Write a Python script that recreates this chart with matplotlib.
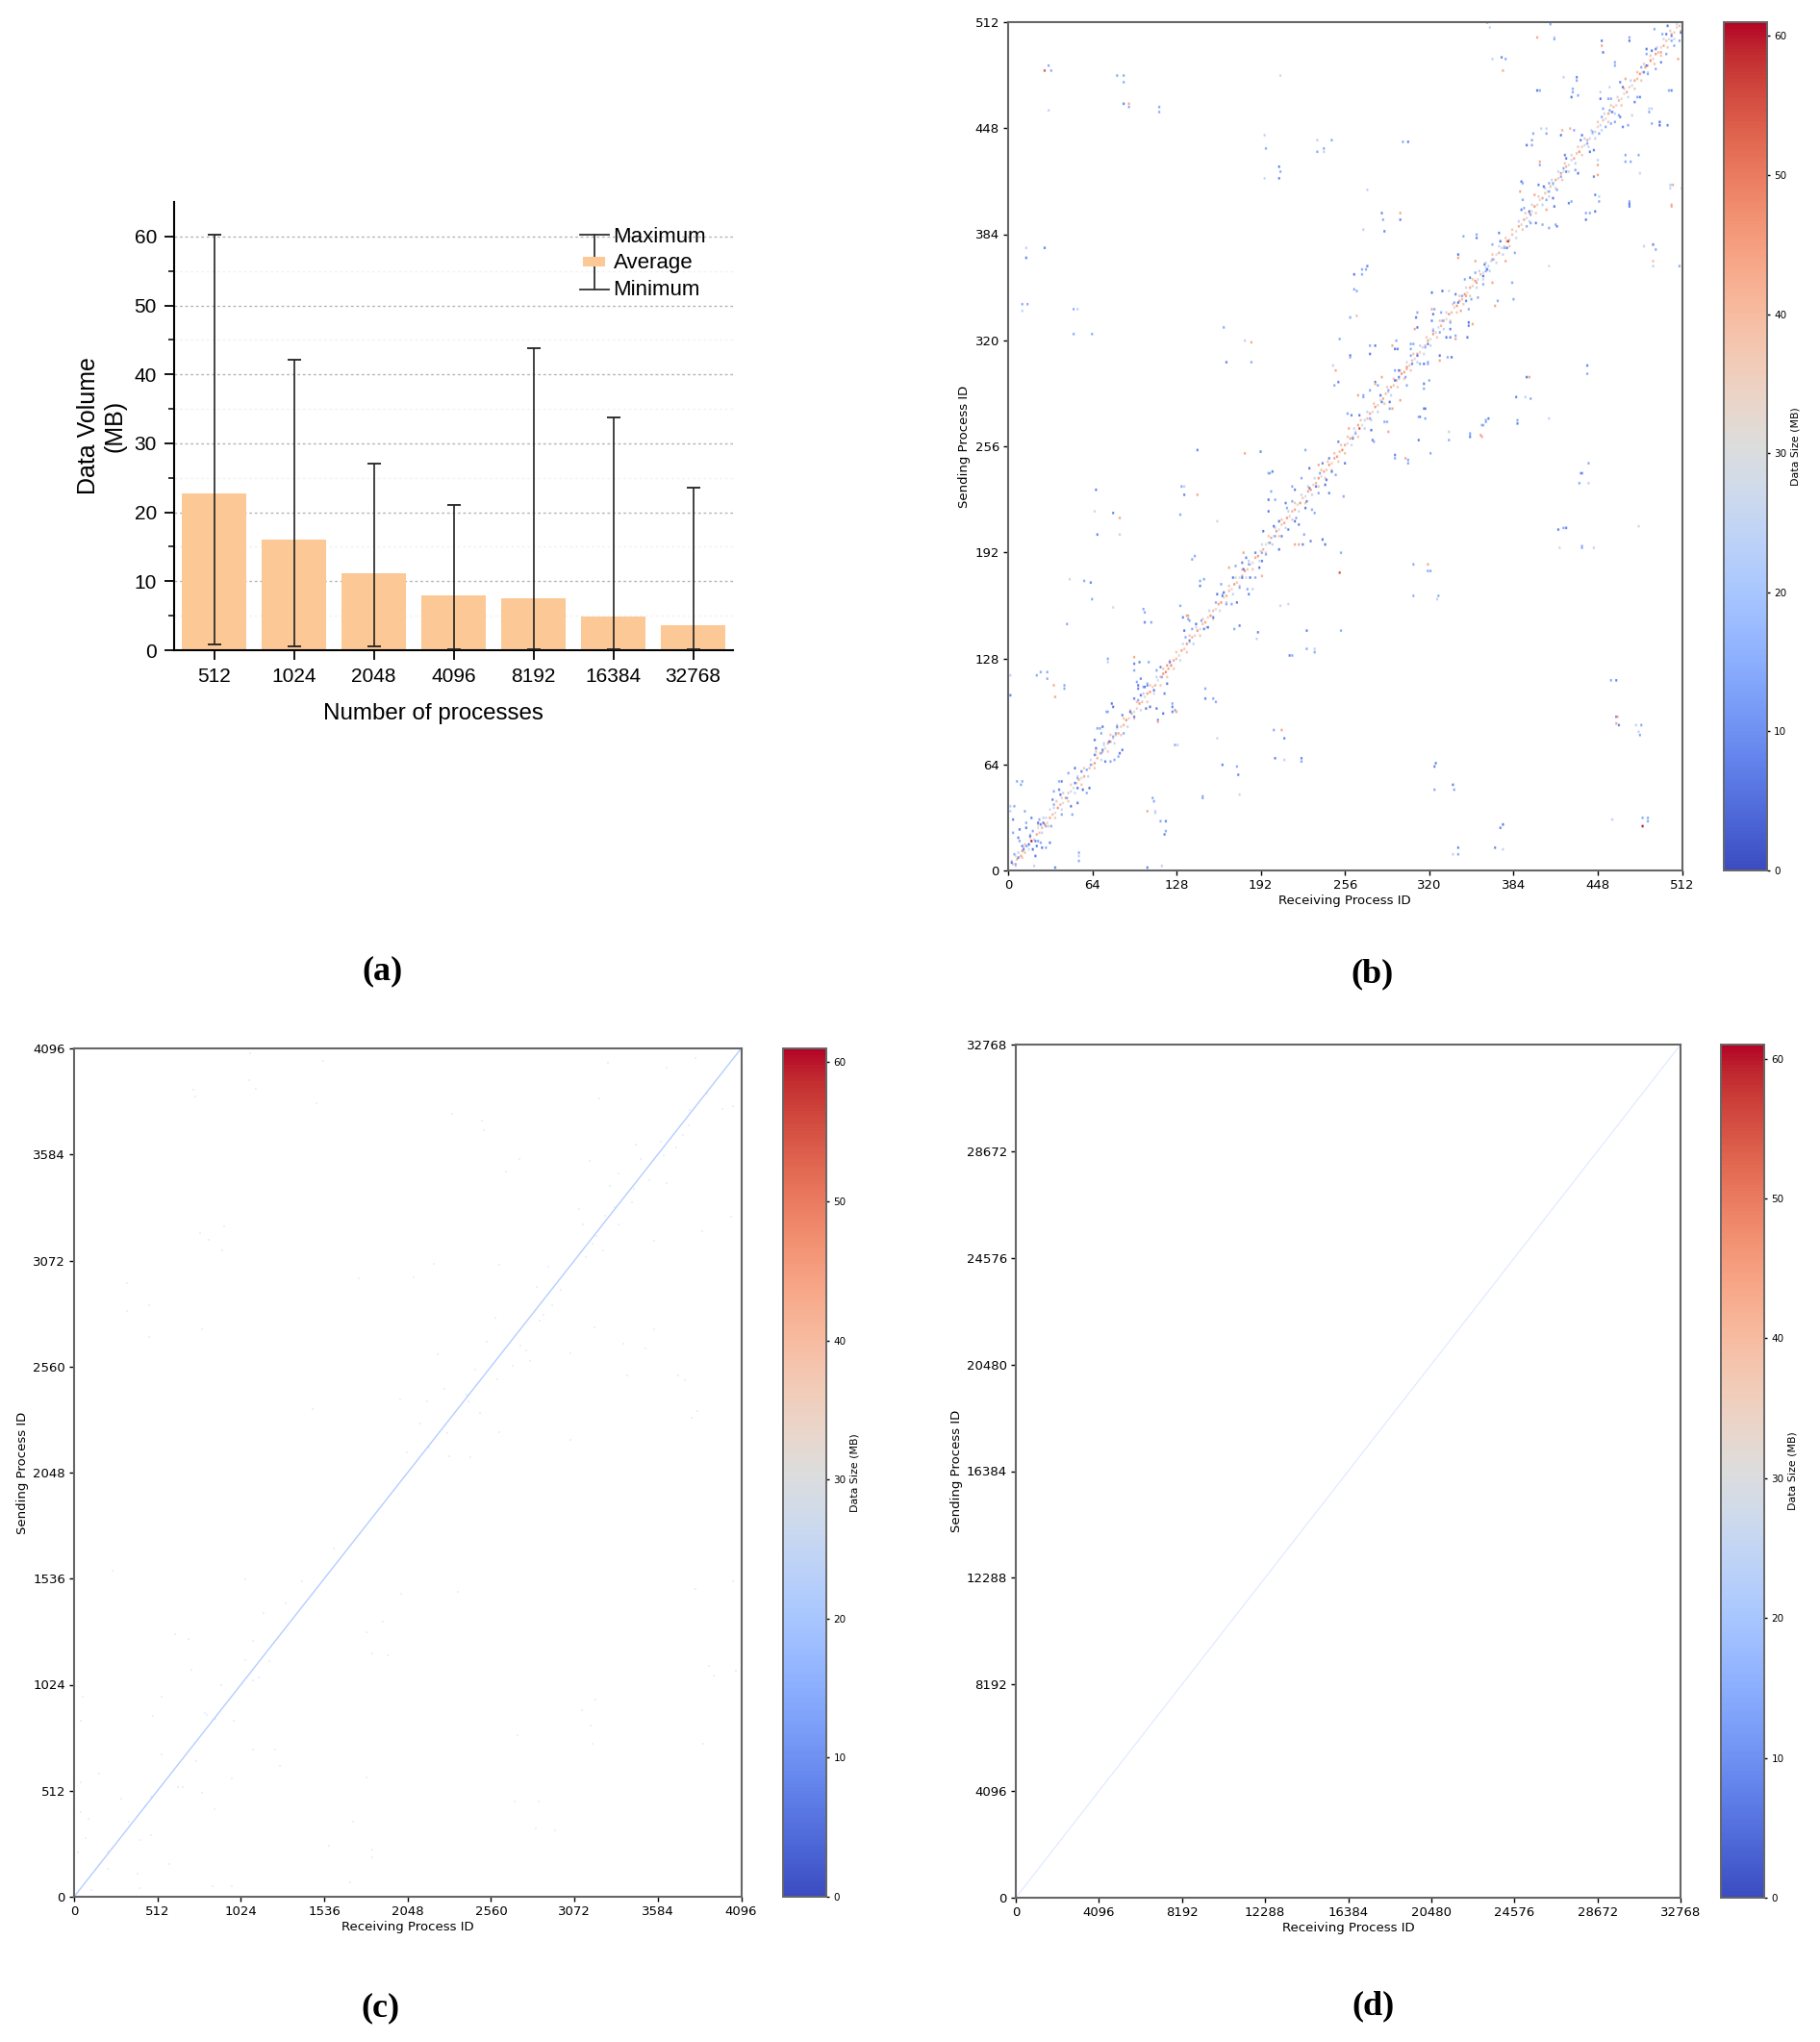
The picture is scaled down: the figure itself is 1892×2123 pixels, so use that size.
import numpy as np
import matplotlib
matplotlib.use("Agg")
import matplotlib.pyplot as plt
from matplotlib.cm import ScalarMappable
from matplotlib.colors import Normalize
from matplotlib.patches import Rectangle

# ---------- panel (a) ----------
procs = ["512", "1024", "2048", "4096", "8192", "16384", "32768"]
vol_avg = [22.8, 16.1, 11.2, 8.0, 7.5, 4.9, 3.6]
vol_max = [60.3, 42.1, 27.1, 21.0, 43.8, 33.7, 23.6]
vol_min = [0.8, 0.5, 0.5, 0.2, 0.2, 0.2, 0.2]

# ---------- panel (b): (receiver, sender, MB) ----------
b_band_1 = [(3,3,38),(6,6,42),(5,8,30),(9,8,44),(10,11,46),(12,10,40),(11,13,32),(14,14,28),(17,17,60),(16,19,36),(19,18,26),(21,21,44),(23,22,38),(22,25,30),(25,25,42),(27,27,46),(29,28,34),(28,31,28),(31,31,44),(33,33,40),(35,34,30),(34,37,26),(37,37,46),(39,39,42),(41,40,30),(40,43,34),(43,43,46),(45,46,38),(47,47,28),(49,49,30),(51,52,40),(53,54,42),(55,55,32),(57,56,44),(59,60,30),(61,61,40),(63,63,34),(65,64,46),(67,67,42),(66,69,30),(69,70,38),(71,71,44),(73,73,30),(72,75,26),(75,76,42),(77,77,46),(79,79,34),(81,81,40),(83,82,44),(82,85,30),(85,86,36),(87,87,42),(89,90,46),(91,91,34),(93,94,44),(95,95,30),(97,97,36),(99,100,46),(101,101,40),(103,104,30),(105,106,44),(107,107,46),(109,110,36),(111,111,42),(113,114,30),(115,116,40),(117,118,46),(119,119,48),(121,121,44),(120,123,46),(123,123,48),(125,126,44),(127,127,40)]
b_band_2 = [(129,129,34),(131,132,44),(133,133,38),(135,136,46),(137,137,30),(139,140,42),(141,141,36),(143,144,46),(145,145,30),(147,148,40),(149,149,44),(151,152,34),(153,153,46),(155,156,40),(157,157,30),(159,160,44),(161,161,46),(163,164,32),(165,165,44),(167,168,40),(169,169,34),(171,172,46),(173,173,38),(175,176,30),(177,177,44),(179,180,46),(181,181,36),(183,184,40),(185,185,32),(187,188,44),(189,189,46),(191,192,34),(193,193,42),(195,196,30),(197,197,38),(199,200,44),(201,201,34),(203,204,46),(205,205,30),(207,208,38),(209,209,44),(211,212,46),(213,213,34),(215,216,42),(217,217,44),(219,220,30),(221,221,46),(223,224,38),(225,225,30),(227,228,44),(229,229,46),(231,232,34),(233,233,42),(235,236,46),(237,237,30),(239,240,44),(241,241,38),(243,244,46),(245,245,36),(247,248,44),(249,249,46),(251,252,40),(253,253,48),(255,256,44)]
b_band_3 = [(257,257,30),(259,260,44),(261,261,36),(263,264,28),(266,266,55),(265,268,44),(268,268,30),(270,271,26),(272,272,40),(274,275,44),(276,276,32),(278,279,46),(280,280,36),(282,283,30),(284,284,44),(286,287,40),(288,288,30),(290,291,44),(292,292,38),(294,295,46),(296,296,32),(298,299,46),(300,300,44),(302,303,48),(304,304,36),(306,307,40),(308,308,30),(310,311,44),(312,312,34),(314,315,28),(316,316,40),(318,319,44),(320,320,30),(322,323,46),(324,324,36),(326,327,28),(328,328,42),(330,331,44),(332,332,30),(334,335,46),(336,336,40),(338,339,32),(340,340,46),(342,343,44),(344,344,40),(346,347,46),(348,348,30),(350,351,44),(352,352,36),(354,355,46),(356,356,28),(358,359,40),(360,360,30),(362,363,28),(364,364,26),(366,367,34),(368,368,40),(370,371,30),(372,372,42),(374,375,28),(376,376,36),(378,379,44),(380,380,30),(382,383,40)]
b_band_4 = [(385,385,30),(387,388,44),(389,389,36),(391,392,44),(393,393,28),(395,396,42),(397,397,30),(399,400,46),(401,401,34),(403,404,30),(405,405,44),(407,408,38),(409,409,30),(411,412,40),(413,413,28),(415,416,44),(417,417,36),(419,420,46),(421,421,30),(423,424,42),(425,425,34),(427,428,26),(429,429,44),(431,432,40),(433,433,46),(435,436,36),(437,437,28),(439,440,44),(441,441,26),(443,444,24),(445,445,28),(447,448,34),(449,449,26),(451,452,40),(453,453,30),(455,456,44),(457,457,34),(459,460,40),(461,461,28),(463,464,42),(465,465,34),(467,468,30),(469,469,44),(471,472,36),(473,473,28),(475,476,44),(477,477,40),(479,480,46),(481,481,30),(483,484,44),(485,485,38),(487,488,48),(489,489,34),(491,492,46),(493,493,40),(495,496,32),(497,497,44),(499,500,38),(501,501,30),(503,504,42),(505,505,36),(507,508,34),(509,509,40),(511,511,38)]
b_ring_1 = [(5,2,26),(2,5,36),(10,7,38),(7,10,24),(15,12,28),(12,15,38),(20,17,38),(16,21,26),(25,22,24),(22,27,38),(30,26,36),(26,31,24),(35,31,38),(31,36,28),(40,36,26),(36,41,38),(45,41,38),(41,46,24),(50,46,26),(47,51,36),(55,51,38),(52,56,26),(60,56,24),(57,61,38),(65,61,38),(62,66,28),(70,66,26),(66,71,38),(75,71,38),(72,76,24),(80,76,26),(77,81,38),(85,81,38),(82,87,26),(90,86,24),(87,91,38),(95,91,38),(92,96,26),(100,96,26),(97,101,38),(105,101,38),(102,106,24),(110,106,28),(107,111,38),(115,111,38),(112,116,24),(120,116,38),(117,121,38),(125,121,38),(122,126,38)]
b_ring_2 = [(130,126,26),(127,131,38),(135,131,38),(132,136,26),(140,136,24),(137,141,38),(145,141,38),(142,146,26),(150,146,26),(147,151,38),(155,151,38),(152,156,24),(160,156,28),(157,161,38),(165,161,38),(162,166,26),(170,166,24),(167,171,38),(175,171,38),(172,176,26),(180,176,26),(177,181,38),(185,181,38),(182,186,24),(190,186,28),(187,191,38),(195,191,38),(192,196,26),(200,196,24),(197,201,38),(205,201,38),(202,206,26),(210,206,26),(207,211,38),(215,211,38),(212,216,24),(220,216,28),(217,221,38),(225,221,38),(222,226,26),(230,226,24),(227,231,38),(235,231,38),(232,236,26),(240,236,38),(237,241,38),(245,241,38),(242,246,38),(250,246,38),(247,251,40),(255,251,40),(252,256,38)]
b_ring_3 = [(260,256,26),(257,261,38),(265,261,38),(262,266,26),(270,266,24),(267,271,38),(275,271,26),(272,276,24),(280,276,24),(277,281,38),(285,281,38),(282,286,26),(290,286,24),(287,291,38),(295,291,38),(292,296,38),(300,296,38),(297,301,38),(305,301,38),(302,306,26),(310,306,24),(307,311,38),(315,311,26),(312,316,24),(320,316,24),(317,321,38),(325,321,38),(322,326,26),(330,326,24),(327,331,38),(335,331,38),(332,336,26),(340,336,38),(337,341,38),(345,341,38),(342,346,38),(350,346,38),(347,351,26),(355,351,24),(352,356,38),(360,356,26),(357,361,24),(365,361,24),(362,366,26),(370,366,26),(367,371,38),(375,371,24),(372,376,26),(380,376,38),(377,381,38)]
b_ring_4 = [(385,381,26),(382,386,38),(390,386,38),(387,391,24),(395,391,26),(392,396,38),(400,396,38),(397,401,26),(405,401,24),(402,406,38),(410,406,26),(407,411,24),(415,411,38),(412,416,26),(420,416,38),(417,421,24),(425,421,26),(422,426,38),(430,426,24),(427,431,26),(435,431,38),(432,436,38),(440,436,26),(437,441,24),(445,441,24),(442,446,26),(450,446,24),(447,451,38),(455,451,38),(452,456,26),(460,456,24),(457,461,38),(465,461,38),(462,466,26),(470,466,26),(467,471,38),(475,471,38),(472,476,24),(480,476,38),(477,481,40),(485,481,26),(482,486,38),(490,486,40),(487,491,38),(495,491,38),(492,496,26),(500,496,38),(497,501,26),(505,501,26),(502,506,38),(510,506,38),(507,510,26)]
b_near_1 = [(2,4,6),(5,3,14),(7,7,8),(4,9,14),(11,12,8),(13,14,14),(15,15,6),(18,12,5),(20,17,8),(22,17,14),(16,20,6),(18,23,14),(13,25,6),(13,28,14),(17,31,8),(7,19,8),(8,17,14),(21,14,6),(24,16,14),(25,13,6),(31,16,8),(28,13,14),(20,8,6),(10,14,8),(24,27,8),(26,28,6),(28,26,14),(32,26,14),(23,30,14),(22,28,6),(40,33,14),(34,39,14),(33,42,8),(38,48,8),(39,45,6),(34,47,14),(47,38,6),(48,33,14),(52,40,6),(44,43,14),(45,58,14),(50,61,6),(50,52,8),(52,49,6),(56,48,6),(61,49,5),(59,46,14),(52,55,14),(55,59,8),(59,60,14),(62,63,14),(40,53,8),(38,53,14),(65,78,6),(69,85,14),(71,86,6),(70,82,14),(67,85,14),(66,73,6),(65,69,8),(73,65,8),(77,65,14),(80,66,14),(84,70,6),(86,72,6),(83,68,14),(71,72,8),(70,70,14),(76,77,6),(79,80,14),(82,86,8),(87,82,14),(81,82,14),(86,93,8),(92,95,6),(95,92,8),(97,113,14),(98,111,6),(98,109,8),(102,110,14),(105,111,8),(98,102,14),(104,97,6),(107,98,6),(112,97,6),(113,90,8),(95,120,14),(100,115,8),(103,110,6),(75,95,14),(78,100,6),(79,98,6),(74,95,14),(118,106,8),(116,116,14),(120,112,6),(124,98,6),(126,96,14),(117,94,6),(95,103,8),(100,105,6),(105,112,14),(110,108,6),(115,122,8),(122,125,6),(112,120,14),(8,24,6),(12,35,14),(3,30,8),(3,22,14)]
b_near_2 = [(137,138,8),(133,144,6),(139,145,14),(151,146,6),(146,150,14),(132,152,6),(137,150,14),(148,145,8),(157,161,14),(162,165,8),(173,161,6),(169,160,14),(163,167,6),(161,172,14),(167,182,44),(172,183,14),(177,185,8),(178,181,6),(182,184,14),(183,176,6),(187,176,14),(177,176,6),(181,169,14),(185,169,24),(182,166,8),(187,191,8),(192,191,14),(192,186,6),(193,204,6),(198,197,14),(201,207,6),(202,201,14),(207,201,8),(205,193,6),(210,221,8),(211,218,14),(197,223,6),(197,216,6),(202,223,14),(217,210,6),(220,208,8),(230,217,14),(232,215,14),(224,202,14),(229,198,8),(238,199,6),(240,196,6),(223,196,8),(217,196,44),(220,196,44),(228,242,6),(235,244,44),(236,239,14),(243,248,8),(241,235,6),(254,225,14),(243,227,8),(233,231,6),(228,230,8),(235,227,14),(215,231,14),(217,229,8),(197,239,14),(200,240,8),(199,228,14),(136,153,44),(192,177,42),(178,191,44),(134,140,14),(142,148,6),(155,152,8),(158,166,6),(165,160,14),(170,176,6),(175,170,14),(180,188,8),(190,182,6),(195,190,14),(205,210,6),(212,205,8),(215,222,14),(225,218,6),(218,212,14),(238,245,8),(245,240,6),(248,238,14),(240,232,6),(250,258,8),(255,245,6),(222,236,14),(226,222,8)]
b_near_3 = [(345,382,14),(355,381,8),(355,383,14),(373,379,6),(367,377,14),(372,384,8),(378,375,6),(376,375,14),(379,379,58),(384,372,14),(341,371,6),(341,369,44),(354,367,44),(377,367,44),(361,365,8),(367,368,14),(363,362,6),(360,358,6),(362,361,14),(354,360,14),(350,357,8),(346,356,14),(355,354,44),(360,353,14),(367,354,44),(382,354,14),(321,348,6),(329,349,5),(334,349,26),(339,347,8),(344,346,14),(341,342,6),(347,343,8),(351,344,14),(347,346,44),(356,345,14),(371,343,14),(369,340,44),(383,344,14),(338,342,14),(349,338,14),(343,337,44),(321,338,44),(323,338,14),(310,336,14),(309,333,6),(322,335,6),(321,331,8),(328,336,14),(329,331,14),(335,330,14),(349,330,6),(349,328,8),(352,329,44),(308,326,44),(310,327,6),(335,326,8),(322,325,14),(327,324,14),(332,321,6),(335,321,8),(339,322,14),(339,320,44),(348,321,6),(318,317,8),(305,317,14),(307,317,14),(294,319,14),(291,316,44),(293,314,6),(295,314,8),(305,314,14),(274,316,14),(278,316,6),(274,311,6),(259,310,5),(259,309,14),(259,333,14),(264,334,40),(262,359,6),(268,362,14),(271,362,14),(272,364,8),(268,359,14),(262,350,14),(264,349,14),(316,315,14),(310,310,6),(315,305,6),(312,305,14),(318,306,14),(318,305,14),(305,310,14),(306,305,8),(327,310,6),(327,307,44),(333,309,14),(336,309,6),(302,302,44),(293,301,14),(296,297,8),(301,297,14),(293,295,6),(302,292,14),(296,301,6),(315,293,8),(315,290,14),(319,295,14),(278,294,6),(280,292,14),(283,297,44),(278,293,44),(265,286,44),(269,286,14),(269,285,14),(274,289,14),(282,286,6),(283,282,8),(288,289,14),(289,282,6),(289,278,14),(297,283,44),(291,278,44),(316,278,6),(312,273,8),(316,272,14),(257,275,14),(260,274,8),(266,274,6),(274,272,14),(285,270,14),(287,270,14),(288,264,44),(275,265,6),(276,259,8),(277,258,14),(311,259,6),(334,264,24),(334,259,14),(350,263,14),(350,261,6),(359,261,44),(362,270,14),(364,272,8),(359,268,14),(261,260,8),(263,263,14),(258,266,44),(252,191,14),(251,179,55)]
b_near_4 = [(490,507,14),(500,509,6),(496,504,14),(499,504,6),(503,503,8),(503,500,14),(509,500,14),(510,505,6),(505,497,14),(488,494,6),(491,495,8),(495,493,44),(499,492,14),(484,492,14),(484,495,6),(495,487,8),(508,489,44),(491,483,14),(484,485,6),(480,484,14),(482,481,8),(485,480,14),(464,475,8),(466,472,6),(468,477,44),(460,487,14),(460,485,14),(421,478,24),(431,478,8),(431,476,14),(401,470,6),(403,470,14),(428,471,14),(428,469,14),(427,466,6),(432,467,14),(449,469,24),(449,465,6),(456,472,24),(457,465,14),(455,465,14),(477,466,14),(479,466,8),(501,470,14),(503,470,8),(475,463,8),(486,459,24),(488,459,24),(486,457,14),(473,455,24),(494,451,6),(494,449,5),(488,450,14),(500,449,8),(466,448,8),(470,449,14),(451,459,14),(456,458,14),(458,457,8),(463,455,14),(464,454,8),(450,454,14),(457,450,14),(460,451,14),(453,448,14),(404,447,24),(408,447,24),(420,446,42),(426,447,42),(429,446,14),(398,444,14),(408,444,14),(419,443,6),(435,443,6),(434,440,8),(397,440,14),(393,437,6),(397,437,14),(443,445,14),(448,444,14),(441,433,6),(444,434,8),(439,438,14),(422,431,8),(423,429,6),(403,425,14),(403,427,44),(447,428,24),(447,425,44),(430,422,14),(432,420,6),(421,423,14),(423,421,8),(419,418,14),(444,418,8),(447,419,44),(468,431,14),(468,427,14),(472,427,14),(478,431,14),(479,420,26),(389,415,6),(390,414,14),(402,413,8),(406,412,6),(410,414,14),(413,414,14),(416,410,14),(410,409,14),(388,409,44),(399,407,44),(390,404,14),(413,405,6),(408,404,14),(425,402,8),(427,403,14),(414,400,6),(408,398,44),(445,407,8),(448,406,24),(448,403,14),(471,402,6),(471,400,8),(438,396,14),(441,396,14),(445,397,6),(438,392,6),(502,413,24),(504,413,44),(502,411,24),(511,411,14),(503,400,44),(416,388,8),(415,389,14),(410,387,14),(405,389,14),(400,390,8),(396,390,14),(393,388,14),(391,399,14),(389,398,8),(395,397,6),(396,395,14)]
b_far = [(375,27,6),(373,25,8),(341,13,8),(341,9,14),(337,9,24),(369,13,8),(375,12,24),(481,31,14),(485,31,14),(485,29,14),(481,26,60),(458,30,24),(337,51,8),(338,48,14),(323,48,14),(324,64,8),(323,62,8),(461,92,6),(462,92,44),(461,88,44),(463,87,8),(476,87,24),(480,87,14),(478,83,24),(479,81,14),(457,114,14),(461,114,8),(222,67,8),(222,65,14),(202,67,8),(209,66,24),(201,84,14),(207,84,44),(209,79,8),(162,63,8),(173,62,14),(174,57,8),(175,45,26),(226,144,8),(252,144,14),(226,133,14),(232,133,24),(232,131,14),(213,129,8),(215,129,14),(307,184,14),(318,184,44),(320,180,14),(318,180,14),(307,165,14),(326,165,14),(325,163,24),(417,205,8),(421,206,14),(423,206,8),(435,195,14),(435,194,14),(418,194,26),(444,194,24),(478,207,26),(440,245,14),(434,239,14),(435,239,8),(433,233,14),(440,233,24),(293,250,8),(293,248,14),(301,248,44),(303,247,14),(303,245,14),(320,251,14),(143,253,8),(179,251,44),(191,252,8),(225,253,14),(198,239,14),(131,231,14),(133,231,24),(133,226,8),(143,226,44),(66,229,8),(65,216,26),(67,202,8),(79,215,8),(84,212,44),(84,202,24),(130,214,14),(158,210,26),(141,189,14),(139,187,14),(145,174,14),(148,175,14),(145,171,8),(57,174,14),(62,173,8),(46,175,26),(63,163,14),(79,158,26),(102,157,14),(103,155,14),(103,149,8),(108,149,14),(44,148,14),(130,159,14),(132,152,8),(135,153,44),(136,151,14),(171,145,14),(175,147,8),(189,143,8),(188,139,24),(206,159,26),(212,160,26),(75,127,14),(75,125,24),(95,128,44),(95,124,8),(99,125,8),(106,125,14),(21,117,14),(24,119,14),(29,119,14),(29,115,14),(1,117,24),(1,105,8),(34,111,44),(42,111,14),(42,109,14),(35,104,44),(149,109,14),(149,103,8),(155,103,14),(157,101,14),(124,100,14),(124,98,8),(124,95,8),(127,95,44),(113,89,44),(126,75,14),(128,75,24),(158,79,26),(6,53,14),(10,53,14),(9,51,14),(1,38,24),(4,38,14),(1,35,24),(109,43,14),(110,41,14),(105,35,44),(111,35,24),(111,34,24),(115,29,14),(119,29,8),(119,23,14),(118,21,8),(147,44,14),(147,43,14),(53,10,14),(53,8,24),(53,5,14),(105,1,8),(116,2,24),(35,1,8),(19,2,24)]
b_far_top = [(363,511,14),(411,511,8),(365,508,24),(411,510,14),(401,502,44),(414,502,24),(414,501,14),(450,500,6),(450,497,44),(451,493,6),(471,502,14),(471,500,6),(367,489,24),(374,490,8),(377,489,14),(375,482,44),(30,485,14),(32,482,14),(27,482,55),(30,458,24),(82,479,14),(87,479,14),(87,475,14),(87,462,8),(91,462,44),(91,460,14),(114,460,14),(114,457,14),(206,479,26),(194,443,24),(195,435,14),(234,440,24),(245,440,14),(239,435,14),(234,433,14),(239,433,24),(205,424,8),(206,421,14),(194,417,26),(205,417,8),(299,439,14),(303,439,8),(272,410,24),(283,396,8),(297,396,44),(284,392,14),(297,392,8),(285,385,8),(269,386,24),(27,375,8),(13,375,24),(13,369,8),(10,341,14),(14,341,14),(10,337,24),(49,338,14),(52,338,24),(49,323,14),(63,323,14),(163,327,14),(179,319,24),(184,318,44),(165,306,8),(184,306,14),(251,320,14),(246,304,24),(248,301,44),(250,294,8),(247,292,14),(511,411,14),(503,413,24),(503,401,44),(471,403,14),(471,401,8),(489,377,8),(482,376,24),(491,374,14),(489,364,24),(489,367,40),(509,364,14),(439,304,8),(439,299,14),(393,297,6),(395,297,44),(385,285,8),(396,284,14),(392,285,24),(410,272,24),(386,271,14),(386,269,8),(362,271,14),(360,268,14),(350,262,14),(358,262,44),(311,273,14),(315,278,8),(410,364,28)]

# ---------- panels (c) and (d) ----------
c_diag_recv = [0, 4096]
c_diag_send = [0, 4096]
d_diag_recv = [0, 32768]
d_diag_send = [0, 32768]
c_faint = [(1083,4073),(1530,4037),(731,3898),(744,3864),(1075,3944),(1115,3902),(1489,3833),(2322,3778),(2504,3747),(2517,3701),(2653,3500),(2734,3562),(3167,3554),(3222,3856),(3276,4026),(3817,4050),(3641,4003),(3979,3802),(4047,3817),(3885,3879),(3777,3724),(3600,3647),(3451,3631),(3343,3492),(3533,3461),(3641,3445),(3695,3616),(3289,3430),(3424,3352),(3100,3321),(3262,3290),(3343,3244),(3127,3244),(3858,3213),(4034,3283),(3560,3167),(3181,3151),(3248,3120),(2910,3043),(2612,3050),(2206,3058),(2084,2993),(1746,2988),(920,3236),(826,3174),(772,3205),(907,3120),(325,2965),(325,2826),(460,2857),(785,2741),(460,2702),(2842,2942),(2937,2857),(2883,2810),(2585,2795),(2775,2640),(2531,2679),(2694,2562),(3194,2748),(3560,2741),(3370,2671),(3506,2648),(2233,2617),(2463,2547),(2802,2586),(3045,2624),(3708,2516),(3749,2493),(3397,2516),(2274,2454),(2166,2392),(2003,2400),(2409,2423),(1462,2353),(3790,2315),(3830,2346),(2125,2284),(2490,2338),(2612,2245),(3045,2206),(2044,2144),(2301,2129),(2436,2121),(3780,3800),(3740,3680),(3620,3580),(3480,3560),(3440,3420),(3320,3330),(3210,3190),(3140,3090),(2990,2930),(2860,2780),(2740,2660),(2600,2500),(2420,2390),(2290,2240),(2180,2170)]
c_faint_low = [(238,1574),(1050,1532),(4046,1524),(3814,1485),(2357,1470),(2010,1462),(1298,1415),(1166,1369),(1894,1330),(619,1268),(702,1245),(1795,1276),(1927,1167),(1828,1175),(1099,1237),(1199,1136),(718,1097),(3897,1113),(4063,1090),(3930,1066),(1050,1144),(901,1020),(536,965),(56,965),(3202,950),(3119,903),(487,872),(40,849),(818,880),(983,849),(3169,826),(2722,779),(3185,740),(3864,740),(1232,709),(536,686),(1099,709),(752,655),(1265,632),(156,593),(967,570),(1795,577),(40,554),(669,531),(785,500),(861,422),(288,476),(2705,461),(2854,461),(40,407),(89,376),(1712,360),(2837,329),(2953,321),(470,298),(404,275),(73,282),(1563,244),(1828,189),(1828,228),(23,213),(205,135),(586,158),(387,112),(404,42),(851,50),(967,50),(1695,68),(106,34),(470,484),(437,438),(338,360),(205,220),(636,531),(867,857),(801,888),(1099,1043),(1132,1058),(1397,1524),(1596,1679)]

size_max = 61
size_ticks = [0, 10, 20, 30, 40, 50, 60]
b_ticks = [0, 64, 128, 192, 256, 320, 384, 448, 512]
c_ticks = [0, 512, 1024, 1536, 2048, 2560, 3072, 3584, 4096]
d_ticks = [0, 4096, 8192, 12288, 16384, 20480, 24576, 28672, 32768]

W, H = 1892, 2123
fig = plt.figure(figsize=(W / 100, H / 100), dpi=100, facecolor="white")


def box(x0, x1, y0, y1):
    return [x0 / W, 1 - y1 / H, (x1 - x0) / W, (y1 - y0) / H]


cmap = plt.get_cmap("coolwarm")
norm = Normalize(0, size_max)
SPINE = "#666666"


def finish(ax, ticks, cax):
    ax.set_xlim(ticks[0], ticks[-1])
    ax.set_ylim(ticks[0], ticks[-1])
    ax.set_xticks(ticks)
    ax.set_yticks(ticks)
    ax.tick_params(labelsize=9.5, length=3.5, width=1, pad=3)
    ax.set_xlabel("Receiving Process ID", fontsize=9.5, labelpad=2)
    ax.set_ylabel("Sending Process ID", fontsize=9.5, labelpad=3)
    for s in ax.spines.values():
        s.set_color(SPINE)
        s.set_linewidth(1.5)
    cb = fig.colorbar(ScalarMappable(norm=norm, cmap=cmap), cax=cax)
    cb.set_ticks(size_ticks)
    cb.ax.tick_params(labelsize=7.5, length=2.5, width=1, pad=3)
    cb.set_label("Data Size (MB)", fontsize=7.9, labelpad=3)
    cb.outline.set_edgecolor(SPINE)
    cb.outline.set_linewidth(1.4)


# (a)
ax = fig.add_axes(box(181, 762, 210, 676))
pos = np.arange(len(procs))
BAR = "#FBC896"
ax.bar(pos, vol_avg, width=0.815, color=BAR, zorder=2)
low = np.array(vol_avg) - np.array(vol_min)
high = np.array(vol_max) - np.array(vol_avg)
ax.errorbar(pos, vol_avg, yerr=[low, high], fmt="none", ecolor="#222222",
            elinewidth=1.2, capsize=5, capthick=1.3, zorder=3)
ax.set_xlim(-0.5, 6.5)
ax.set_ylim(0, 65)
ax.set_yticks(range(0, 61, 10))
ax.set_yticks(range(5, 61, 10), minor=True)
ax.yaxis.grid(True, which="major", color="#b5b5b5", ls=(0, (2, 2)), lw=1, zorder=0)
ax.yaxis.grid(True, which="minor", color="#f2f2f2", ls=(0, (2, 2)), lw=1, zorder=0)
ax.set_xticks(pos)
ax.set_xticklabels(procs)
ax.tick_params(axis="both", which="major", labelsize=15, length=7, width=1.3, pad=6,
               labelfontfamily="Liberation Sans")
ax.tick_params(axis="y", which="minor", length=4, width=1.1)
for s in ("top", "right"):
    ax.spines[s].set_visible(False)
for s in ("left", "bottom"):
    ax.spines[s].set_linewidth(1.5)
ax.set_xlabel("Number of processes", fontsize=17.4, family="Liberation Sans")
ax.xaxis.set_label_coords(0.463, -0.118)
ax.set_ylabel("Data Volume\n(MB)", fontsize=18, family="Liberation Sans", labelpad=6, linespacing=1.15)
# hand-drawn key: one whisker running through the three rows
ax.add_patch(Rectangle((4.5, 50.8), 1.85, 11, fc="white", ec="none", zorder=1))
ax.plot([4.76, 4.76], [52.3, 60.3], color="#333333", lw=1.3, zorder=3)
ax.plot([4.58, 4.95], [60.3, 60.3], color="#333333", lw=1.3, zorder=3)
ax.plot([4.58, 4.95], [52.3, 52.3], color="#333333", lw=1.3, zorder=3)
ax.add_patch(Rectangle((4.62, 55.6), 0.28, 1.5, fc=BAR, ec="none", zorder=4))
for yy, tt in zip([59.9, 56.1, 52.3], ["Maximum", "Average", "Minimum"]):
    ax.text(5.0, yy, tt, fontsize=16, family="Liberation Sans", va="center", zorder=4)

# (b)
ax = fig.add_axes(box(1048, 1748.5, 23, 905))
grid = 2  # each process is drawn on a finer raster so a mark spreads like the source blobs
cells = np.zeros((512 * grid, 512 * grid))
groups = (b_ring_1, b_ring_2, b_ring_3, b_ring_4, b_band_1, b_band_2, b_band_3, b_band_4,
          b_near_1, b_near_2, b_near_3, b_near_4, b_far, b_far_top)
for group in groups:
    for r, s, v in group:
        cells[grid * s:grid * s + 3, grid * r:grid * r + 3] = v
rgb = cmap(norm(cells))
rgb[cells == 0] = (1, 1, 1, 1)
ax.imshow(rgb, origin="lower", extent=[0, 512, 0, 512], aspect="auto", interpolation="bilinear")
finish(ax, b_ticks, fig.add_axes(box(1792, 1836.5, 23, 905)))

# (c)
ax = fig.add_axes(box(77, 770.5, 1090, 1972))
ax.plot(c_diag_recv, c_diag_send, color=cmap(norm(19)), lw=1.0, alpha=0.8, solid_capstyle="butt")
fx = [p[0] for p in c_faint + c_faint_low]
fy = [p[1] for p in c_faint + c_faint_low]
ax.scatter(fx, fy, s=4, marker="s", color=cmap(norm(20)), alpha=0.25, linewidths=0)
finish(ax, c_ticks, fig.add_axes(box(814, 859, 1090, 1972)))

# (d)
ax = fig.add_axes(box(1056, 1747, 1086, 1973))
ax.plot(d_diag_recv, d_diag_send, color=cmap(norm(18)), lw=0.8, alpha=0.35, solid_capstyle="butt")
finish(ax, d_ticks, fig.add_axes(box(1789, 1834, 1086, 1973)))

# panel letters
for px, py, tt in [(397, 1010, "(a)"), (1426, 1013, "(b)"), (395, 2088, "(c)"), (1427, 2086, "(d)")]:
    fig.text(px / W, 1 - py / H, tt, fontsize=26, fontweight="bold",
             family="Liberation Serif", ha="center", va="center")

fig.savefig("out.png", dpi=100, facecolor="white")
